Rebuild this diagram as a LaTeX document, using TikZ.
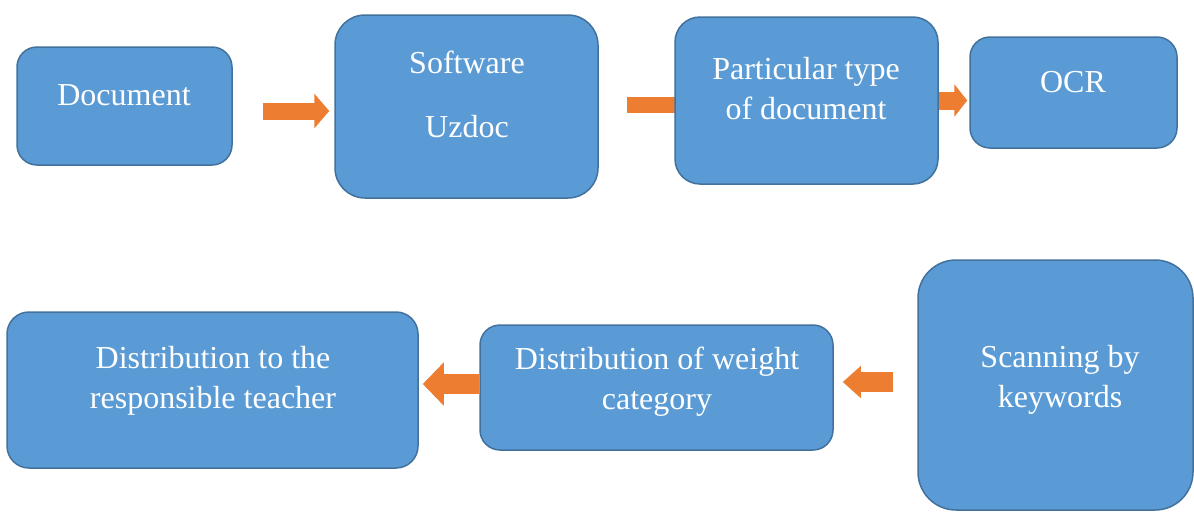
\documentclass[tikz,border=0pt]{standalone}
\usepackage{fontspec}
\setmainfont{Liberation Serif}
\usetikzlibrary{arrows.meta,backgrounds}
\definecolor{boxfill}{HTML}{5B9BD5}
\definecolor{boxline}{HTML}{41719C}
\definecolor{arrowor}{HTML}{ED7D31}
\begin{document}
\begin{tikzpicture}[x=1pt,y=-1pt,
  box/.style={draw=boxline,fill=boxfill,line width=1.5pt,inner sep=0pt,rectangle},
  lbl/.style={text=white,font=\fontsize{32}{40}\selectfont,align=center,anchor=base,inner sep=0pt},
  fat/.style n args={3}{draw=arrowor,line width=#1,-{Triangle[width=#2,length=#3]}}]
\useasboundingbox (0,0) rectangle (1194,512);
% boxes
\node[box,rounded corners=20pt,minimum width=215pt,minimum height=118pt] (doc) at (124.5,106) {};
\node[box,rounded corners=30pt,minimum width=263pt,minimum height=183pt] (sw) at (466.5,106.5) {};
\node[box,rounded corners=25pt,minimum width=263pt,minimum height=167pt] (pc) at (806.5,100.5) {};
\node[box,rounded corners=20pt,minimum width=207pt,minimum height=111pt] (ocr) at (1073.5,92.5) {};
\node[box,rounded corners=38pt,minimum width=275pt,minimum height=250pt] (sk) at (1055.5,385) {};
\node[box,rounded corners=20pt,minimum width=353pt,minimum height=125pt] (wc) at (656.5,387.5) {};
\node[box,rounded corners=22pt,minimum width=411pt,minimum height=156pt] (tr) at (212.5,390) {};
% labels (anchor base = baseline of last line)
\node[lbl] (t1) at (124,105) {Document};
\node[lbl] (t2) at (467,137) {Software\\[24pt]Uzdoc};
\node[lbl] (t3) at (806,119) {Particular type\\of document};
\node[lbl] (t4) at (1073,92) {OCR};
\node[lbl] (t5) at (1060,407) {Scanning by\\keywords};
\node[lbl] (t6) at (657,409) {Distribution of weight\\category};
\node[lbl] (t7) at (213,408) {Distribution to the\\responsible teacher};
% arrows
\begin{pgfonlayer}{background}
\draw[fat={17pt}{34pt}{15pt},shorten <=30pt,shorten >=5pt] ([yshift=-5pt]doc.east) -- ([yshift=-4.5pt]sw.west);
\draw[fat={16pt}{34pt}{15pt},shorten <=28pt,shorten >=-20pt] ([yshift=1.5pt]sw.east) -- ([yshift=-4.5pt]pc.west);
\draw[fat={18pt}{32pt}{13pt},shorten >=2pt] (pc.east) -- (pc.east -| ocr.west);
\draw[fat={20pt}{42pt}{21pt},shorten >=4pt] ([yshift=3.5pt]wc.west) -- ([yshift=6pt]tr.east);
\draw[fat={20pt}{31pt}{18pt},shorten <=24pt,shorten >=9pt] ([yshift=3pt]sk.west) -- ([yshift=5.5pt]wc.east);
\end{pgfonlayer}
\end{tikzpicture}
\end{document}
